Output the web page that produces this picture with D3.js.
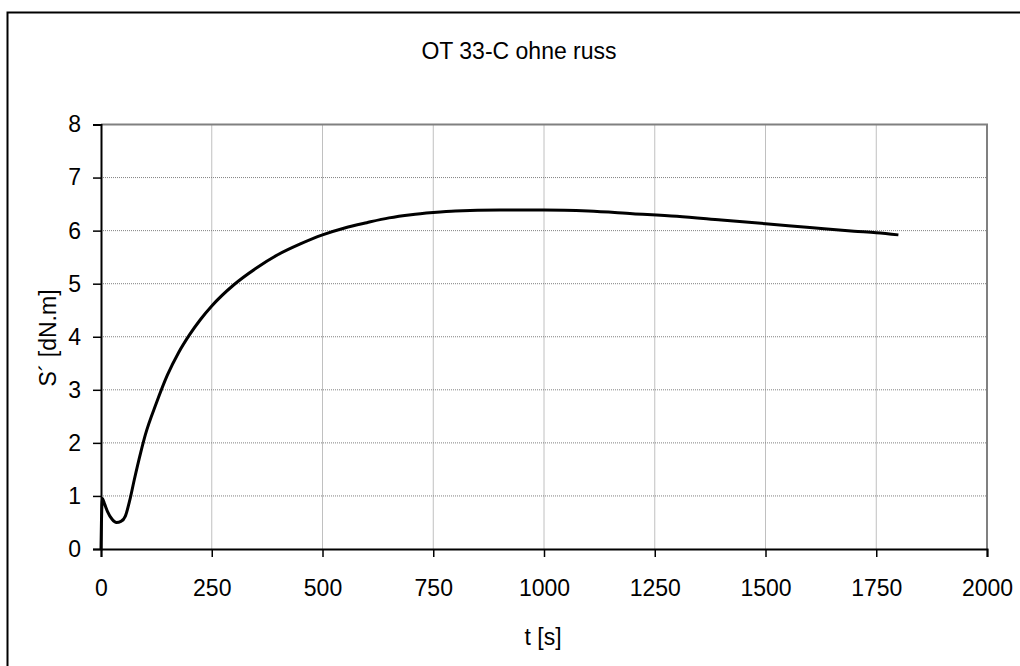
<!DOCTYPE html>
<html>
<head>
<meta charset="utf-8">
<script src="https://cdn.jsdelivr.net/npm/d3@7"></script>
<style>
  body { margin: 0; background: #fff; }
  svg { font-family: "Liberation Sans", Arial, sans-serif; }
</style>
</head>
<body>
<script>
// Curve: time [s] and torque S' [dN.m]
const times = [0, 1, 3, 8, 15, 25, 35, 45, 55, 65, 75, 90, 100, 125, 150, 175, 200, 225, 250, 300, 350,
  400, 450, 500, 550, 600, 650, 700, 750, 800, 900, 1000, 1100, 1200, 1300, 1400, 1500, 1600, 1700, 1750, 1800];
const torque = [0, 0.5, 0.95, 0.85, 0.7, 0.56, 0.5, 0.52, 0.62, 0.92, 1.3, 1.83, 2.15, 2.75, 3.28, 3.7, 4.04, 4.33, 4.58, 4.98, 5.29,
  5.55, 5.75, 5.92, 6.05, 6.15, 6.24, 6.3, 6.34, 6.37, 6.39, 6.39, 6.37, 6.32, 6.27, 6.2, 6.13, 6.06, 5.99, 5.96, 5.92];
const xTicks = [0, 250, 500, 750, 1000, 1250, 1500, 1750, 2000];
const yTicks = [0, 1, 2, 3, 4, 5, 6, 7, 8];

const data = times.map((t, i) => ({ t: t, s: torque[i] }));

const width = 1020;
const height = 666;
const plot = { left: 101, right: 987, top: 124.5, bottom: 549 };
const fontSize = '23px';

const svg = d3.select('body')
    .append('svg')
    .attr('width', width)
    .attr('height', height);

// Outer chart frame (runs past the window on right/bottom)
svg.append('rect')
    .attr('x', 7.5)
    .attr('y', 12.5)
    .attr('width', 1020)
    .attr('height', 700)
    .attr('fill', 'none')
    .attr('stroke', '#000')
    .attr('stroke-width', 2);

const x = d3.scaleLinear().domain([0, 2000]).range([plot.left, plot.right]);
const y = d3.scaleLinear().domain([0, 8]).range([plot.bottom, plot.top]);

// Grid lines
svg.append('g')
    .selectAll('line')
    .data(yTicks.slice(1, -1))
    .enter()
    .append('line')
    .attr('x1', plot.left)
    .attr('x2', plot.right)
    .attr('y1', d => y(d))
    .attr('y2', d => y(d))
    .attr('stroke', '#808080')
    .attr('stroke-width', 1)
    .attr('stroke-dasharray', '1,1');

svg.append('g')
    .selectAll('line')
    .data(xTicks.slice(1, -1))
    .enter()
    .append('line')
    .attr('x1', d => x(d))
    .attr('x2', d => x(d))
    .attr('y1', plot.top)
    .attr('y2', plot.bottom)
    .attr('stroke', '#808080')
    .attr('stroke-width', 1)
    .attr('stroke-dasharray', '1,1');

// Grey top / right border of plot area
svg.append('path')
    .attr('d', `M${plot.left},${plot.top}H${plot.right}V${plot.bottom}`)
    .attr('fill', 'none')
    .attr('stroke', '#808080')
    .attr('stroke-width', 2);

// Axes
const xAxis = d3.axisBottom(x).tickValues(xTicks).tickFormat(d3.format('d')).tickSize(8).tickPadding(23);
const yAxis = d3.axisLeft(y).tickValues(yTicks).tickFormat(d3.format('d')).tickSize(8).tickPadding(12);

const gx = svg.append('g')
    .attr('transform', `translate(0,${plot.bottom})`)
    .call(xAxis);
const gy = svg.append('g')
    .attr('transform', `translate(${plot.left},0)`)
    .call(yAxis);

[gx, gy].forEach(g => {
    g.select('.domain').attr('stroke', '#000').attr('stroke-width', 2);
    g.selectAll('.tick line').attr('stroke', '#000').attr('stroke-width', 1.5);
    g.selectAll('.tick text')
        .attr('fill', '#000')
        .style('font-family', '"Liberation Sans", Arial, sans-serif')
        .style('font-size', fontSize);
});

// Curve
const line = d3.line()
    .x(d => x(d.t))
    .y(d => y(d.s))
    .curve(d3.curveMonotoneX);

svg.append('path')
    .datum(data)
    .attr('d', line)
    .attr('fill', 'none')
    .attr('stroke', '#000')
    .attr('stroke-width', 3);

// Title and axis labels
svg.append('text')
    .attr('x', 519)
    .attr('y', 59)
    .attr('text-anchor', 'middle')
    .style('font-size', fontSize)
    .text('OT 33-C ohne russ');

svg.append('text')
    .attr('x', 543)
    .attr('y', 645)
    .attr('text-anchor', 'middle')
    .style('font-size', fontSize)
    .text('t [s]');

svg.append('text')
    .attr('transform', 'translate(56,338) rotate(-90)')
    .attr('text-anchor', 'middle')
    .style('font-size', fontSize)
    .text('S´ [dN.m]');
</script>
</body>
</html>
